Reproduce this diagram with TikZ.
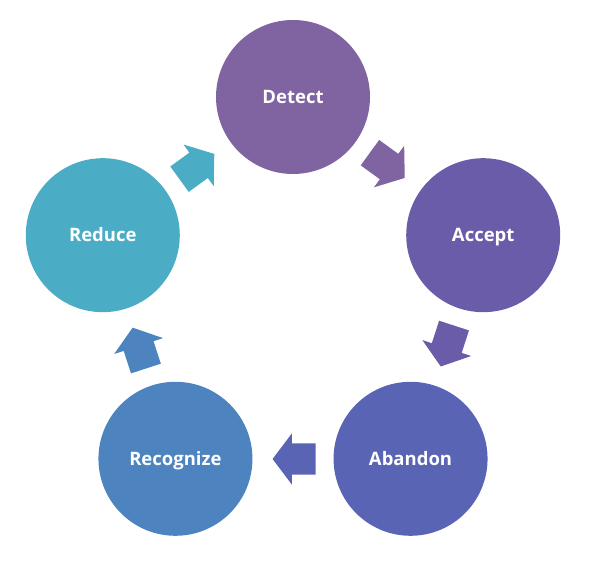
\documentclass[tikz,border=0pt]{standalone}
\usepackage{fontspec}
\setmainfont{Open Sans}
\usetikzlibrary{shapes.arrows,calc}
\definecolor{cDetect}{HTML}{8064A2}
\definecolor{cAccept}{HTML}{6B5CA9}
\definecolor{cAbandon}{HTML}{5A64B4}
\definecolor{cRecognize}{HTML}{4D83BF}
\definecolor{cReduce}{HTML}{4BACC6}

\begin{document}
\begin{tikzpicture}[x=1pt, y=1pt,
  stage/.style={circle, minimum size=154pt, inner sep=0pt, text=white,
    text height=13pt, text depth=0pt, font=\bfseries\fontsize{18.5}{21}\selectfont},
  flow/.style={single arrow, draw=none, inner xsep=0pt, inner ysep=15.5pt, minimum height=43pt,
    single arrow head extend=10pt, single arrow tip angle=106}]
  \useasboundingbox (0,0) rectangle (589,564);
  % centre of the pentagon of stages
  \coordinate (M) at (293,267);
  \foreach \ang/\name/\txt/\col in {90/detect/Detect/cDetect, 18/accept/Accept/cAccept,
      -54/abandon/Abandon/cAbandon, -126/recognize/Recognize/cRecognize, 162/reduce/Reduce/cReduce} {
    \node[stage, fill=\col] (\name) at ($(M)+(\ang:200)$) {\txt};
  }
  % block arrows between the stages, clockwise
  \foreach \ang/\col [count=\k] in {126/cReduce, 54/cDetect, -18/cAccept, -90/cAbandon, 198/cRecognize} {
    \node[flow, fill=\col, rotate=\ang-90] (arrow\k) at ($(M)+(\ang:162)+(\ang+90:7)$) {};
  }
\end{tikzpicture}
\end{document}
